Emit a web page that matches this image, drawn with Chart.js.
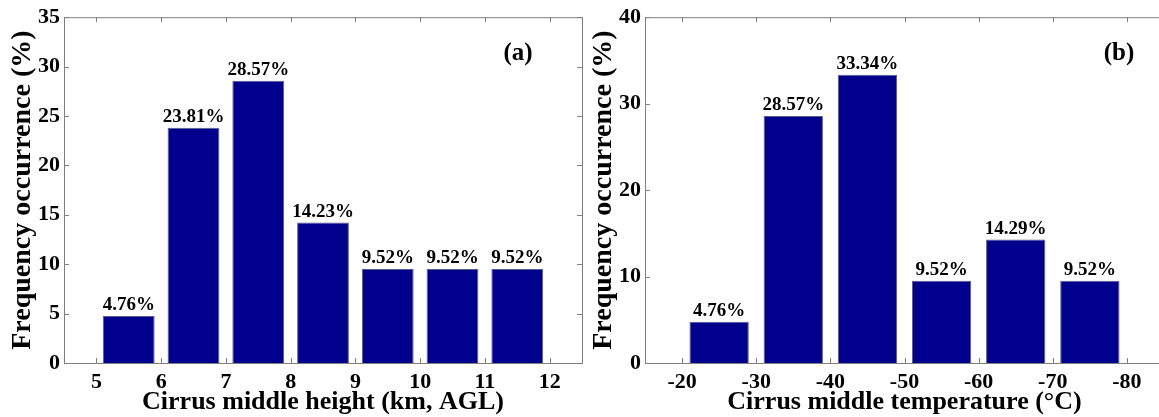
<!DOCTYPE html>
<html>
<head>
<meta charset="utf-8">
<script src="https://cdn.jsdelivr.net/npm/chart.js@4/dist/chart.umd.min.js"></script>
<style>
  html, body { margin: 0; padding: 0; background: #fff; overflow: hidden; width: 1159px; height: 417px; }
  canvas { position: absolute; top: 0; }
  #chartA { left: 0; }
  #chartB { left: 580px; }
</style>
</head>
<body>
<canvas id="chartA" width="590" height="417"></canvas>
<canvas id="chartB" width="600" height="417"></canvas>
<script>
// panel (a): cirrus middle height
const heightTicks = [5, 6, 7, 8, 9, 10, 11, 12]
const heightBins = [5.5, 6.5, 7.5, 8.5, 9.5, 10.5, 11.5]
const heightFreq = [4.76, 23.81, 28.57, 14.23, 9.52, 9.52, 9.52]

// panel (b): cirrus middle temperature
const tempTicks = [-20, -30, -40, -50, -60, -70, -80]
const tempBins = [-25, -35, -45, -55, -65, -75]
const tempFreq = [4.76, 28.57, 33.34, 9.52, 14.29, 9.52]

const FONT = "'Liberation Serif', 'Times New Roman', serif"
const BAR = '#00008c'
const AXIS = '#808080'

// frame + inward ticks on all four sides, like the matlab box
const framePlugin = {
    id: 'frame',
    beforeDatasetsDraw(chart) {
        const { ctx, chartArea: a, scales: { x, y } } = chart
        ctx.save()
        ctx.strokeStyle = AXIS
        ctx.lineWidth = 1
        ctx.strokeRect(a.left + 0.5, a.top + 0.5, a.right - a.left, a.bottom - a.top)
        ctx.beginPath()
        x.ticks.forEach(t => {
            const px = Math.round(x.getPixelForValue(t.value)) + 0.5
            ctx.moveTo(px, a.bottom); ctx.lineTo(px, a.bottom - 5)
            ctx.moveTo(px, a.top); ctx.lineTo(px, a.top + 5)
        })
        y.ticks.forEach(t => {
            const py = Math.round(y.getPixelForValue(t.value)) + 0.5
            ctx.moveTo(a.left, py); ctx.lineTo(a.left + 5, py)
            ctx.moveTo(a.right, py); ctx.lineTo(a.right - 5, py)
        })
        ctx.stroke()
        ctx.restore()
    },
    afterDatasetsDraw(chart, args, opts) {
        const { ctx, chartArea: a } = chart
        ctx.save()
        ctx.fillStyle = '#000'
        ctx.textAlign = 'center'
        ctx.textBaseline = 'bottom'
        ctx.font = 'bold 19px ' + FONT
        const values = chart.data.datasets[0].data
        chart.getDatasetMeta(0).data.forEach((el, i) => {
            ctx.fillText(values[i].y.toFixed(2) + '%', el.x, el.y - 1)
        })
        // panel letter
        ctx.font = 'bold 25px ' + FONT
        ctx.textBaseline = 'middle'
        ctx.fillText(opts.letter, a.right - opts.letterDx, a.top + opts.letterDy)
        ctx.restore()
    }
}

function makeChart(id, bins, freq, cfg) {
    const data = bins.map((b, i) => ({ x: b, y: freq[i] }))
    return new Chart(document.getElementById(id), {
        type: 'bar',
        data: {
            datasets: [{
                data: data,
                backgroundColor: BAR,
                borderColor: '#5a5a8a',
                borderWidth: 1,
                categoryPercentage: 1,
                barPercentage: 0.8
            }]
        },
        options: {
            responsive: false,
            animation: false,
            layout: { padding: { left: 0, right: cfg.padRight, top: 16, bottom: 0 } },
            plugins: {
                legend: { display: false },
                tooltip: { enabled: false },
                frame: { letter: cfg.letter, letterDx: cfg.letterDx, letterDy: 36 }
            },
            scales: {
                x: {
                    type: 'linear',
                    offset: false,
                    min: cfg.xMin,
                    max: cfg.xMax,
                    reverse: cfg.reverse,
                    grid: { display: false, drawTicks: false },
                    border: { display: false },
                    afterBuildTicks: s => { s.ticks = cfg.xTicks.map(v => ({ value: v })) },
                    ticks: {
                        padding: 6,
                        color: '#000',
                        font: { family: FONT, size: 22, weight: 'bold' }
                    },
                    title: {
                        display: true,
                        text: cfg.xTitle,
                        color: '#000',
                        padding: { top: 0, bottom: 2 },
                        font: { family: FONT, size: 26, weight: 'bold', lineHeight: 1 }
                    },
                    afterFit: s => { s.height = 54 }
                },
                y: {
                    min: 0,
                    max: cfg.yMax,
                    grid: { display: false, drawTicks: false },
                    border: { display: false },
                    ticks: {
                        stepSize: cfg.yStep,
                        padding: 4,
                        color: '#000',
                        font: { family: FONT, size: 22, weight: 'bold' }
                    },
                    title: {
                        display: true,
                        text: 'Frequency occurrence (%)',
                        color: '#000',
                        padding: { top: cfg.yTitlePad, bottom: 0 },
                        font: { family: FONT, size: 28, weight: 'bold', lineHeight: 1 }
                    },
                    afterFit: s => { s.width = cfg.yWidth }
                }
            }
        },
        plugins: [framePlugin]
    })
}

makeChart('chartA', heightBins, heightFreq, {
    xMin: 4.5, xMax: 12.5, xTicks: heightTicks, reverse: false,
    yMax: 35, yStep: 5,
    xTitle: 'Cirrus middle height (km, AGL)',
    padRight: 8, yWidth: 64, yTitlePad: 9,
    letter: '(a)', letterDx: 64
})

makeChart('chartB', tempBins, tempFreq, {
    xMin: -85, xMax: -15, xTicks: tempTicks, reverse: true,
    yMax: 40, yStep: 10,
    xTitle: 'Cirrus middle temperature (\u00B0C)',
    padRight: 16, yWidth: 65, yTitlePad: 10,
    letter: '(b)', letterDx: 45
})
</script>
</body>
</html>
